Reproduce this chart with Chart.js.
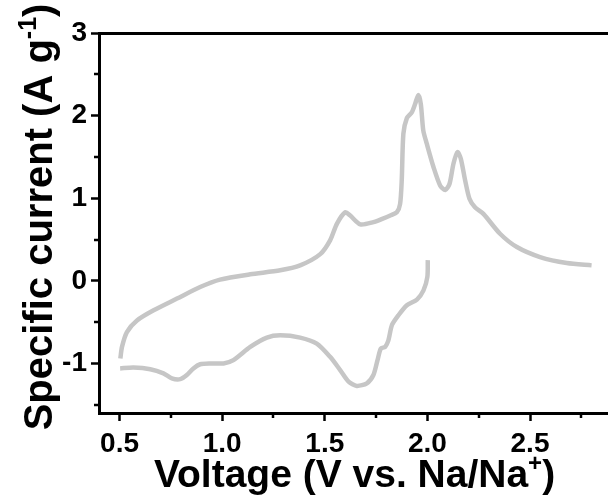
<!DOCTYPE html>
<html>
<head>
<meta charset="utf-8">
<script src="https://cdn.jsdelivr.net/npm/chart.js@4/dist/chart.umd.min.js"></script>
<style>
  html, body { margin: 0; padding: 0; background: #fff; overflow: hidden; }
  #wrap { width: 608px; height: 497px; }
</style>
</head>
<body>
<div id="wrap"><canvas id="cv" width="608" height="497"></canvas></div>
<script>
// ========== DATA ==========
// cathodic sweep: 2.0 V down to 0.5 V
const cathodicV = [2.002, 2.0, 1.981, 1.949, 1.9, 1.859, 1.827, 1.81, 1.794, 1.773, 1.757, 1.737, 1.705, 1.656, 1.616, 1.575, 1.526, 1.461, 1.38, 1.283, 1.218, 1.137, 1.055, 1.007, 0.942, 0.893, 0.86, 0.828, 0.796, 0.755, 0.714, 0.65, 0.568, 0.503];
const cathodicI = [0.25, 0.05, -0.115, -0.227, -0.296, -0.417, -0.538, -0.72, -0.8, -0.82, -0.96, -1.14, -1.24, -1.272, -1.22, -1.08, -0.92, -0.76, -0.687, -0.66, -0.687, -0.8, -0.96, -1.0, -1.0, -1.01, -1.06, -1.14, -1.19, -1.18, -1.12, -1.07, -1.05, -1.06];

// anodic sweep: 0.5 V up to 2.8 V
const anodicV = [0.504, 0.512, 0.536, 0.585, 0.666, 0.78, 0.893, 0.99, 1.137, 1.283, 1.38, 1.478, 1.526, 1.559, 1.6, 1.624, 1.673, 1.737, 1.78, 1.819, 1.851, 1.867, 1.875, 1.883, 1.9, 1.924, 1.94, 1.956, 1.968, 1.98, 1.997, 2.03, 2.062, 2.087, 2.108, 2.127, 2.147, 2.163, 2.184, 2.205, 2.232, 2.273, 2.354, 2.436, 2.549, 2.679, 2.8];
const anodicI = [-0.94, -0.8, -0.62, -0.48, -0.357, -0.215, -0.075, 0.015, 0.079, 0.127, 0.187, 0.323, 0.49, 0.69, 0.83, 0.79, 0.683, 0.71, 0.75, 0.79, 0.83, 0.93, 1.215, 1.78, 1.97, 2.04, 2.14, 2.25, 2.14, 1.82, 1.66, 1.375, 1.155, 1.1, 1.175, 1.417, 1.557, 1.477, 1.215, 0.994, 0.89, 0.81, 0.57, 0.409, 0.288, 0.215, 0.187];

const xTitleParts = [{ t: "Voltage (V vs. Na/Na" }, { t: "+", sup: true }, { t: ")" }];
const yTitleParts = [{ t: "Specific current (A g" }, { t: "-1", sup: true }, { t: ")" }];

const FONT = "'Liberation Sans', Arial, sans-serif";
const LINE_COLOR = "#c6c6c6";

function toPoints(xs, ys) {
  return xs.map((x, i) => ({ x: x, y: ys[i] }));
}

function isMajorX(v) { return Math.abs(v * 2 - Math.round(v * 2)) < 1e-6; }
function isMajorY(v) { return Math.abs(v - Math.round(v)) < 1e-6; }

// ========== TEXT WITH SUPERSCRIPTS ==========
function drawRich(ctx, parts, cx, baseY, size) {
  const supSize = Math.round(size * 0.62);
  let total = 0;
  parts.forEach((p) => {
    ctx.font = "bold " + (p.sup ? supSize : size) + "px " + FONT;
    p.w = ctx.measureText(p.t).width;
    total += p.w;
  });
  let x = cx - total / 2;
  ctx.textAlign = "left";
  ctx.textBaseline = "alphabetic";
  parts.forEach((p) => {
    ctx.font = "bold " + (p.sup ? supSize : size) + "px " + FONT;
    ctx.fillText(p.t, x, p.sup ? baseY - size * 0.4 : baseY);
    x += p.w;
  });
}

// ========== MINOR TICKS + AXIS TITLES ==========
const extras = {
  id: "extras",
  afterDraw(chart) {
    const ctx = chart.ctx;
    const a = chart.chartArea;
    const xs = chart.scales.x;
    const ys = chart.scales.y;
    ctx.save();
    ctx.strokeStyle = "#000";
    ctx.lineWidth = 2.5;
    xs.ticks.forEach((t) => {
      if (isMajorX(t.value)) return;
      const px = Math.round(xs.getPixelForValue(t.value));
      ctx.beginPath();
      ctx.moveTo(px, a.bottom);
      ctx.lineTo(px, a.bottom + 5);
      ctx.stroke();
    });
    ys.ticks.forEach((t) => {
      if (isMajorY(t.value)) return;
      const py = Math.round(ys.getPixelForValue(t.value));
      ctx.beginPath();
      ctx.moveTo(a.left, py);
      ctx.lineTo(a.left - 5, py);
      ctx.stroke();
    });

    ctx.fillStyle = "#000";
    drawRich(ctx, xTitleParts, (a.left + a.right) / 2 + 1, 487, 39);
    ctx.translate(52, 217);
    ctx.rotate(-Math.PI / 2);
    drawRich(ctx, yTitleParts, 0, 0, 40);
    ctx.restore();
  },
};

// ========== CHART ==========
new Chart(document.getElementById("cv"), {
  type: "line",
  data: {
    datasets: [
      { data: toPoints(cathodicV, cathodicI) },
      { data: toPoints(anodicV, anodicI) },
    ].map((d) => Object.assign(d, {
      borderColor: LINE_COLOR,
      borderWidth: 4.5,
      pointRadius: 0,
      tension: 0.25,
      fill: false,
    })),
  },
  options: {
    responsive: false,
    animation: false,
    layout: { padding: 0 },
    plugins: { legend: { display: false }, tooltip: { enabled: false } },
    scales: {
      x: {
        type: "linear",
        position: "bottom",
        min: 0.4,
        max: 2.88,
        afterFit: (s) => { s.height = 84; },
        border: { display: true, color: "#000", width: 3 },
        grid: {
          drawOnChartArea: false,
          tickLength: 8,
          tickWidth: 2.5,
          tickColor: (c) => (c.tick && isMajorX(c.tick.value) ? "#000" : "rgba(0,0,0,0)"),
        },
        ticks: {
          stepSize: 0.25,
          includeBounds: false,
          autoSkip: false,
          maxRotation: 0,
          padding: 6,
          color: "#000",
          font: { family: FONT, size: 28, weight: "bold" },
          callback: (v) => (isMajorX(v) ? v.toFixed(1) : ""),
        },
      },
      xTop: {
        type: "linear",
        position: "top",
        min: 0.4,
        max: 2.88,
        afterFit: (s) => { s.height = 33; },
        border: { display: true, color: "#000", width: 3 },
        grid: { drawOnChartArea: false, drawTicks: false },
        ticks: { display: false },
      },
      y: {
        type: "linear",
        min: -1.6,
        max: 3,
        afterFit: (s) => { s.width = 99; },
        border: { display: true, color: "#000", width: 3 },
        grid: {
          drawOnChartArea: false,
          tickLength: 8,
          tickWidth: 2.5,
          tickColor: (c) => (c.tick && isMajorY(c.tick.value) ? "#000" : "rgba(0,0,0,0)"),
        },
        ticks: {
          stepSize: 0.5,
          includeBounds: false,
          autoSkip: false,
          padding: 4,
          color: "#000",
          font: { family: FONT, size: 28, weight: "bold" },
          callback: (v) => (isMajorY(v) ? String(v) : ""),
        },
      },
    },
  },
  plugins: [extras],
});
</script>
</body>
</html>
